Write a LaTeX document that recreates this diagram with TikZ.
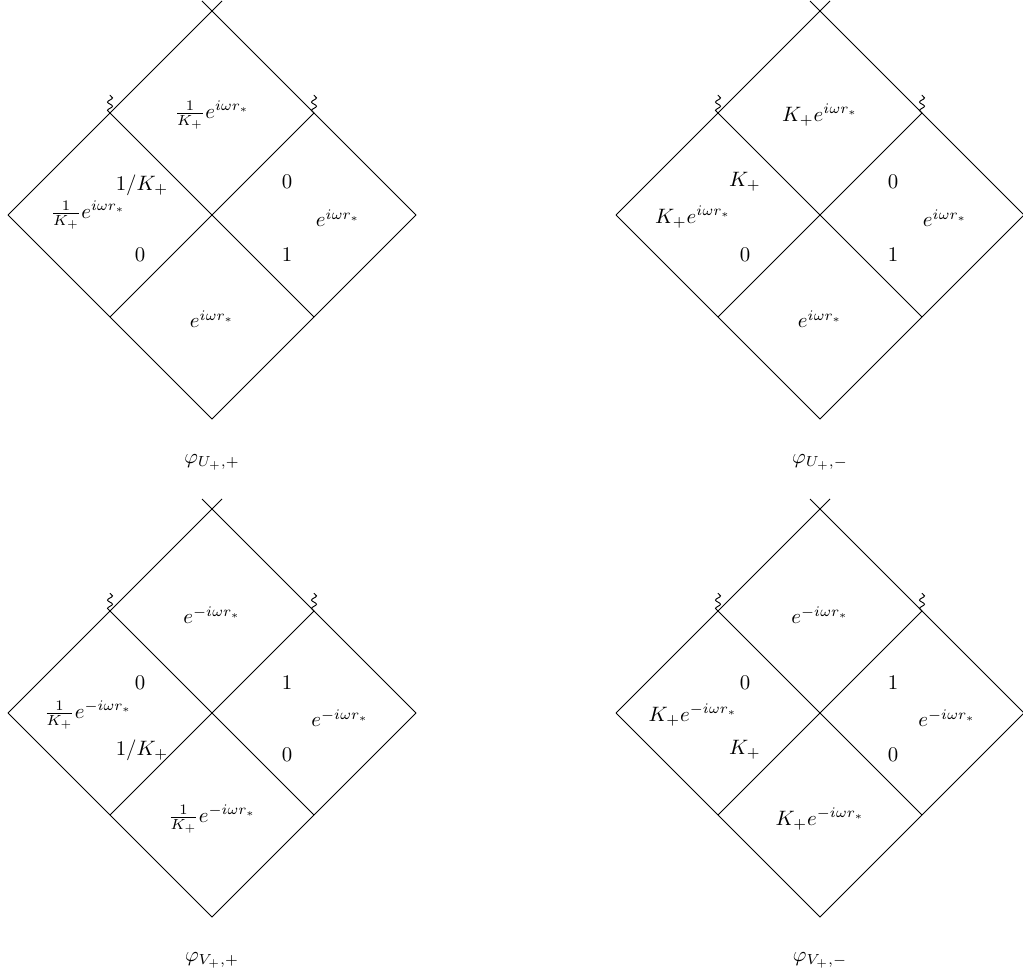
\documentclass[tikz,border=0pt]{standalone}
\usetikzlibrary{decorations.pathmorphing}
\tikzset{
  pline/.style={line width=0.45pt},
  wig/.style={line width=0.45pt, decorate, decoration={snake, amplitude=1.2pt, segment length=4pt}},
  lab/.style={inner sep=0pt, anchor=center},
}
\newcommand\pdiagram[3]{%
  \begin{scope}[shift={(#1,#2)}, name prefix=#3-]
    \coordinate (L) at (-204,0);
    \coordinate (R) at (204,0);
    \coordinate (B) at (0,204);
    \coordinate (UL) at (-102,-102);
    \coordinate (UR) at (102,-102);
    \coordinate (DL) at (-102,102);
    \coordinate (DR) at (102,102);
    \coordinate (XL) at (-10,-214);
    \coordinate (XR) at (10,-214);
    \coordinate (WL) at (-102,-120);
    \coordinate (WR) at (102,-120);
    \draw[pline] (L) -- (XR);
    \draw[pline] (R) -- (XL);
    \draw[pline] (L) -- (B) -- (R);
    \draw[pline] (UL) -- (DR);
    \draw[pline] (UR) -- (DL);
    \draw[wig] (UL) -- (WL);
    \draw[wig] (UR) -- (WR);
  \end{scope}}
\begin{document}
\begin{tikzpicture}[x=0.48pt,y=-0.48pt]
\useasboundingbox (0,0) rectangle (1023,972);
% top-left
\pdiagram{212}{215}{a}
\begin{scope}[shift={(212,215)}]
  \node[lab] (a-top) at (0,-100) {$\frac{1}{K_+}e^{i\omega r_*}$};
  \node[lab] (a-bot) at (0,104) {$e^{i\omega r_*}$};
  \node[lab] (a-left) at (-124,0) {$\frac{1}{K_+}e^{i\omega r_*}$};
  \node[lab] (a-right) at (126,3) {$e^{i\omega r_*}$};
  \node[lab] (a-ul) at (-70,-30) {$1/K_+$};
  \node[lab] (a-ur) at (75,-33) {$0$};
  \node[lab] (a-dl) at (-72,40) {$0$};
  \node[lab] (a-dr) at (75,40) {$1$};
  \node[lab] (a-cap) at (0,247) {$\varphi_{U_+,+}$};
\end{scope}
% top-right
\pdiagram{820}{215}{b}
\begin{scope}[shift={(820,215)}]
  \node[lab] (b-top) at (0,-100) {$K_+e^{i\omega r_*}$};
  \node[lab] (b-bot) at (0,104) {$e^{i\omega r_*}$};
  \node[lab] (b-left) at (-127,2) {$K_+e^{i\omega r_*}$};
  \node[lab] (b-right) at (125,3) {$e^{i\omega r_*}$};
  \node[lab] (b-ul) at (-75,-33) {$K_+$};
  \node[lab] (b-ur) at (73,-33) {$0$};
  \node[lab] (b-dl) at (-75,40) {$0$};
  \node[lab] (b-dr) at (73,40) {$1$};
  \node[lab] (b-cap) at (0,247) {$\varphi_{U_+,-}$};
\end{scope}
% bottom-left
\pdiagram{212}{713}{c}
\begin{scope}[shift={(212,713)}]
  \node[lab] (c-top) at (0,-98) {$e^{-i\omega r_*}$};
  \node[lab] (c-bot) at (0,106) {$\frac{1}{K_+}e^{-i\omega r_*}$};
  \node[lab] (c-left) at (-124,2) {$\frac{1}{K_+}e^{-i\omega r_*}$};
  \node[lab] (c-right) at (128,5) {$e^{-i\omega r_*}$};
  \node[lab] (c-ul) at (-72,-30) {$0$};
  \node[lab] (c-ur) at (75,-30) {$1$};
  \node[lab] (c-dl) at (-70,37) {$1/K_+$};
  \node[lab] (c-dr) at (75,42) {$0$};
  \node[lab] (c-cap) at (0,247) {$\varphi_{V_+,+}$};
\end{scope}
% bottom-right
\pdiagram{820}{713}{d}
\begin{scope}[shift={(820,713)}]
  \node[lab] (d-top) at (0,-98) {$e^{-i\omega r_*}$};
  \node[lab] (d-bot) at (0,106) {$K_+e^{-i\omega r_*}$};
  \node[lab] (d-left) at (-127,2) {$K_+e^{-i\omega r_*}$};
  \node[lab] (d-right) at (127,5) {$e^{-i\omega r_*}$};
  \node[lab] (d-ul) at (-75,-30) {$0$};
  \node[lab] (d-ur) at (73,-30) {$1$};
  \node[lab] (d-dl) at (-75,37) {$K_+$};
  \node[lab] (d-dr) at (73,42) {$0$};
  \node[lab] (d-cap) at (0,247) {$\varphi_{V_+,-}$};
\end{scope}
\end{tikzpicture}
\end{document}
